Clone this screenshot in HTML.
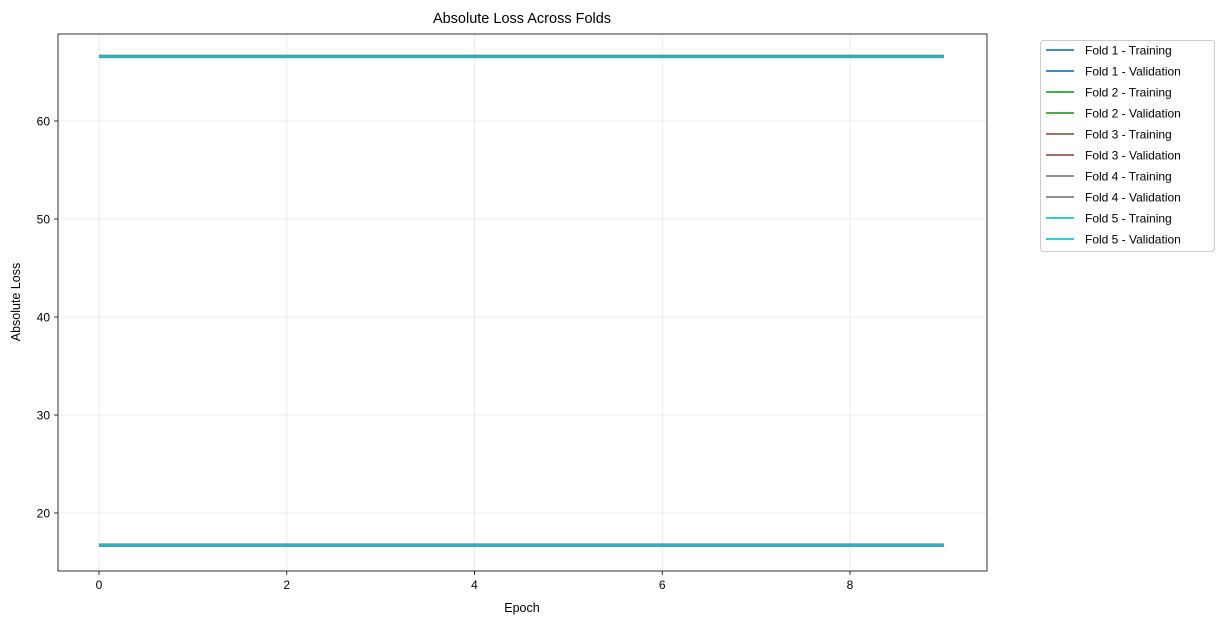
<!DOCTYPE html>
<html><head><meta charset="utf-8"><style>
body{margin:0;background:#fff;font-family:"Liberation Sans","DejaVu Sans",sans-serif}
svg text{font-family:"Liberation Sans","DejaVu Sans",sans-serif;fill:#000}
</style></head><body>
<svg id="chart" width="1224" height="624" xmlns="http://www.w3.org/2000/svg">
<rect width="1224" height="624" fill="#fff"/>
<text x="522" y="23" font-size="14.5" text-anchor="middle">Absolute Loss Across Folds</text>
<g id="grid"></g><g id="series"></g><g id="axes"></g>
<text x="522" y="612" font-size="12.5" text-anchor="middle">Epoch</text>
<text transform="translate(20,302) rotate(-90)" font-size="12.5" text-anchor="middle">Absolute Loss</text>
<g id="legend"></g>
</svg>
<script>
const epochs=[0,1,2,3,4,5,6,7,8,9];
const foldNames=["Fold 1","Fold 2","Fold 3","Fold 4","Fold 5"];
const foldColors=["#1f77b4","#2ca02c","#8c564b","#7f7f7f","#17becf"];
const trainLoss=[16.7,16.7,16.75,16.7,16.7];
const valLoss=[66.6,66.6,66.6,66.6,66.55];
const xTicks=[0,2,4,6,8];
const yTicks=[20,30,40,50,60];
const L=58,R=987,T=34,B=571;
const xs=v=>99+v*(850-99)/8;
const ys=v=>513-(v-20)*(513-121)/40;
const NS="http://www.w3.org/2000/svg";
function mk(tag,attrs,parent){const e=document.createElementNS(NS,tag);for(const k in attrs)e.setAttribute(k,attrs[k]);parent.appendChild(e);return e;}
const grid=document.getElementById('grid'),axes=document.getElementById('axes'),ser=document.getElementById('series'),leg=document.getElementById('legend');
xTicks.forEach(t=>{const x=xs(t);
 const g=mk('line',{x1:x,x2:x,y1:T,y2:B,stroke:'#b0b0b0','stroke-width':0.8,'stroke-opacity':0.3},grid);
 
 mk('line',{x1:x,x2:x,y1:B,y2:B+4,stroke:'#000','stroke-width':0.8},axes);
 const tx=mk('text',{x:x,y:B+18,'font-size':12,'text-anchor':'middle'},axes);tx.textContent=t;
 });
yTicks.forEach(t=>{const y=ys(t);
 const g=mk('line',{x1:L,x2:R,y1:y,y2:y,stroke:'#b0b0b0','stroke-width':0.8,'stroke-opacity':0.3},grid);
 
 mk('line',{x1:L-4,x2:L,y1:y,y2:y,stroke:'#000','stroke-width':0.8},axes);
 const tx=mk('text',{x:L-8,y:y+4.5,'font-size':12,'text-anchor':'end'},axes);tx.textContent=t;
 });
const fr=mk('rect',{x:L,y:T,width:R-L,height:B-T,fill:'none',stroke:'#000','stroke-width':0.8},axes);

function path(v){return epochs.map((e,i)=>(i?'L':'M')+xs(e)+','+ys(v)).join(' ');}
foldNames.forEach((f,i)=>{
 const a=mk('path',{d:path(trainLoss[i]),stroke:foldColors[i],'stroke-width':3,'stroke-opacity':0.8,fill:'none'},ser);
 
 const b=mk('path',{d:path(valLoss[i]),stroke:foldColors[i],'stroke-width':3,'stroke-opacity':0.8,fill:'none'},ser);
 
});
mk('rect',{x:1040.5,y:40.5,width:174,height:211,rx:3,fill:'#fff',stroke:'#ccc','stroke-width':1},leg);
const labels=[];foldNames.forEach((f,i)=>{labels.push([f+' - Training',foldColors[i]]);labels.push([f+' - Validation',foldColors[i]]);});
labels.forEach((l,j)=>{const y=50+j*21;
 const g=mk('g',{},leg);
 mk('line',{x1:1046,x2:1074,y1:y,y2:y,stroke:l[1],'stroke-width':2,'stroke-opacity':0.85},g);
 const t=mk('text',{x:1085,y:y+4.5,'font-size':12},g);t.textContent=l[0];});
</script>
</body></html>
